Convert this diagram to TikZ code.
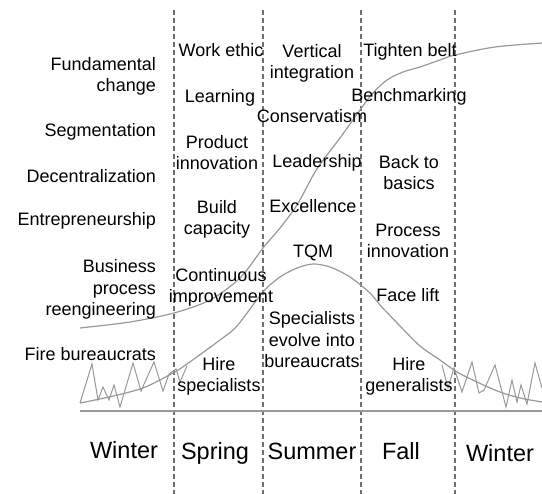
\documentclass[tikz,border=0pt]{standalone}
\usepackage{fontspec}
\setmainfont{Liberation Sans}
\definecolor{curvegray}{HTML}{999999}
\definecolor{dashgray}{HTML}{707070}
\newcommand{\lblfont}{\fontsize{18}{21.5}\selectfont}
\newcommand{\seasonfont}{\fontsize{23.5}{28}\selectfont}
\begin{document}
\begin{tikzpicture}[x=1pt,y=-1pt,
  lbl/.style={font=\lblfont, inner sep=0pt, align=center, anchor=base},
  lblr/.style={font=\lblfont, inner sep=0pt, align=right, anchor=base east},
  season/.style={font=\seasonfont, inner sep=0pt, anchor=base},
  divider/.style={draw=dashgray, line width=1.3pt, dash pattern=on 5pt off 3pt},
  curve/.style={draw=curvegray, line width=1.2pt},
  jag/.style={draw=curvegray, line width=1pt, line join=miter}]
\useasboundingbox (0,0) rectangle (542,494);

% dividers
\foreach \xx/\nm in {174/a,263/b,361/c,455/d}{
  \coordinate (top\nm) at (\xx,10);
  \coordinate (bot\nm) at (\xx,494);
  \draw[divider] (top\nm) -- (bot\nm);
}
% baseline
\coordinate (baseL) at (80,411);
\coordinate (baseR) at (542,411);
\draw[curve] (baseL) -- (baseR);

% S-curve
\draw[curve] plot[smooth, tension=0.5] coordinates {(80,328) (130,322) (174,313) (210,300) (240,278) (263,248) (280,228) (297,205) (315,172) (327,155) (340,138) (360,110) (373,93) (387,80) (403,72) (420,67) (440,60) (455,55) (495,47) (542,43)};

% bell curve
\draw[curve] plot[smooth, tension=0.5] coordinates {(80,403) (109,397) (143,388) (173,373) (187,364) (220,340) (237,326) (263,292) (280,277) (297,268) (313,264) (330,267) (350,277) (370,293) (380,305) (400,326) (420,346) (440,360) (457,372) (477,382) (500,392) (520,398) (542,402)};

% zigzags
\draw[jag] (80,403) -- (92,364) -- (98,400) -- (103,387) -- (109,400) -- (114,385) -- (120,407) -- (133,363) -- (141,391) -- (154,362) -- (163,391) -- (169,374) -- (176,369) -- (180,382) -- (187,366);
\draw[jag] (442,365) -- (448,388) -- (454,368) -- (462,392) -- (472,362) -- (479,393) -- (484,390) -- (495,365) -- (506,407) -- (512,380) -- (517,402) -- (521,385) -- (527,404) -- (535,363) -- (542,388);

% left column (anchor = baseline of last line)
\node[lblr] (fund) at (156,92) {Fundamental\\change};
\node[lblr] (seg) at (156,137) {Segmentation};
\node[lblr] (dec) at (156,183) {Decentralization};
\node[lblr] (ent) at (156,226) {Entrepreneurship};
\node[lblr] (bpr) at (156,316) {Business\\process\\reengineering};
\node[lblr] (fire) at (156,361) {Fire bureaucrats};

% spring
\node[lbl] (work) at (221,57) {Work ethic};
\node[lbl] (learn) at (220,103) {Learning};
\node[lbl] (prod) at (217,170) {Product\\innovation};
\node[lbl] (build) at (217,235) {Build\\capacity};
\node[lbl] (cont) at (221,303) {Continuous\\improvement};
\node[lbl] (hspec) at (219,392) {Hire\\specialists};

% summer
\node[lbl] (vert) at (312,79) {Vertical\\integration};
\node[lbl] (cons) at (312,123) {Conservatism};
\node[lbl] (lead) at (317,168) {Leadership};
\node[lbl] (exc) at (313,213) {Excellence};
\node[lbl] (tqm) at (313,258) {TQM};
\node[lbl] (spec) at (312,368) {Specialists\\evolve into\\bureaucrats};

% fall
\node[lbl] (tight) at (410,57) {Tighten belt};
\node[lbl] (bench) at (409,102) {Benchmarking};
\node[lbl] (back) at (409,190) {Back to\\basics};
\node[lbl] (proc) at (408,258) {Process\\innovation};
\node[lbl] (face) at (408,302) {Face lift};
\node[lbl] (hgen) at (409,392) {Hire\\generalists};

% seasons
\node[season] (w1) at (124,459) {Winter};
\node[season] (sp) at (215,460) {Spring};
\node[season] (su) at (312,460) {Summer};
\node[season] (fa) at (401,460) {Fall};
\node[season] (w2) at (500,462) {Winter};
\end{tikzpicture}
\end{document}
